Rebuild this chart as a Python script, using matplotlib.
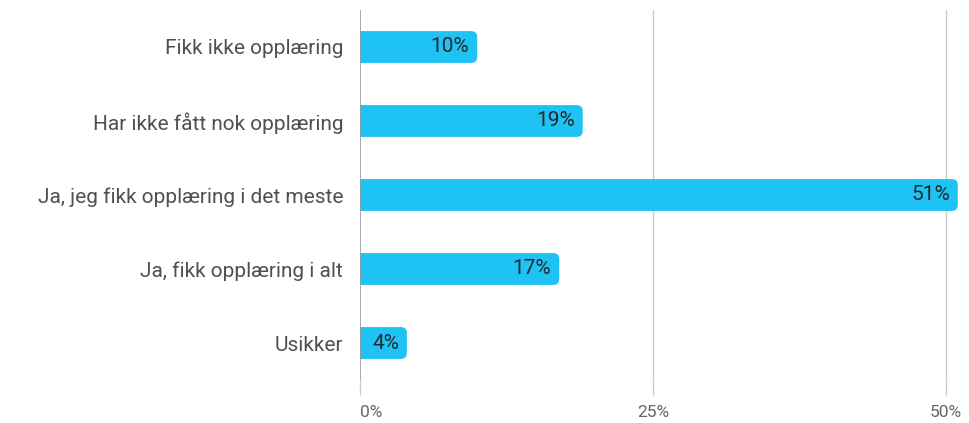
import matplotlib
matplotlib.use("Agg")
import matplotlib.pyplot as plt
from matplotlib.patches import FancyBboxPatch

plt.rcParams['font.family'] = ['Roboto', 'DejaVu Sans']

categories = ["Fikk ikke opplæring", "Har ikke fått nok opplæring",
              "Ja, jeg fikk opplæring i det meste", "Ja, fikk opplæring i alt",
              "Usikker"]
values = [10, 19, 51, 17, 4]
xticks = [0, 25, 50]
xticklabels = ["0%", "25%", "50%"]

bar_color = "#1fc3f3"

fig = plt.figure(figsize=(9.69, 4.23), dpi=100)
ax = fig.add_axes([360 / 969, 1 - 380 / 423, (959 - 360) / 969, 370 / 423])
xmax = 51.1
ax.set_xlim(0, xmax)
ax.set_ylim(len(categories) - 0.5, -0.5)

# pixel scale for rounded corners
px_x = xmax / 599
px_y = len(categories) / 370
bar_h = 0.43
r = 6 * px_x
for i, v in enumerate(values):
    p = FancyBboxPatch((-r * 3, i - bar_h / 2), v + r * 3, bar_h,
                       boxstyle=f"round,pad=0,rounding_size={r}",
                       mutation_aspect=px_y / px_x,
                       fc=bar_color, ec="none", zorder=2)
    ax.add_patch(p)
    ax.text(v - 8 * px_x, i, f"{v}%", ha="right", va="center",
            fontsize=15, color="#222a30", zorder=3)

ax.set_yticks(range(len(categories)))
ax.set_yticklabels(categories, fontsize=15, color="#505050")
ax.tick_params(axis="y", length=0, pad=12)

ax.set_xticks(xticks)
ax.set_xticklabels(xticklabels, fontsize=12.5, color="#666666")
ax.tick_params(axis="x", length=11, width=1, color="#cccccc", pad=7)
labels = ax.get_xticklabels()
labels[0].set_ha("left")

for x in xticks[1:]:
    ax.axvline(x, color="#cccccc", lw=1, zorder=1)
ax.axvline(0, color="#999999", lw=1.2, zorder=4)

for s in ax.spines.values():
    s.set_visible(False)

fig.savefig("out.png", dpi=100)
